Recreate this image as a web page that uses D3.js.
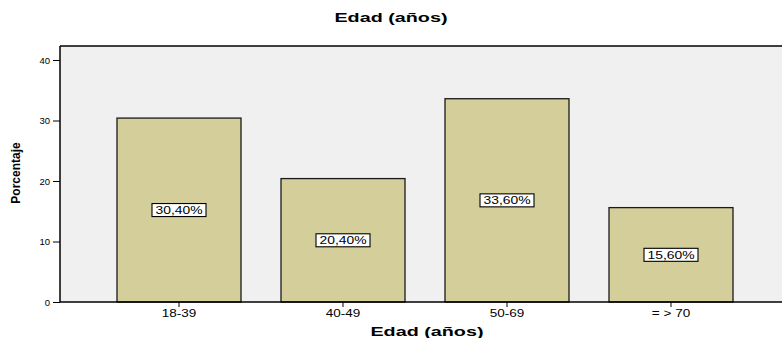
<!DOCTYPE html>
<html>
<head>
<meta charset="utf-8">
<script src="https://cdn.jsdelivr.net/npm/d3@7"></script>
<style>
  html, body { margin: 0; padding: 0; background: #fff; }
  svg { display: block; }
  text { font-family: "Liberation Sans", Arial, sans-serif; }
</style>
</head>
<body>
<svg id="chart" width="782" height="338"></svg>
<script>
// Age groups and their share of the sample (%)
const categories = ["18-39", "40-49", "50-69", "= > 70"];
const percentages = [30.4, 20.4, 33.6, 15.6];
const valueLabels = ["30,40%", "20,40%", "33,60%", "15,60%"];
const yTicks = [0, 10, 20, 30, 40];

const svg = d3.select("#chart");

const plot = { left: 60, top: 46, right: 782, bottom: 302 };

// Widen text glyphs horizontally by a factor, keeping the anchor point
function widen(sel, factor) {
  sel.each(function () {
    const len = this.getComputedTextLength();
    d3.select(this)
      .attr("textLength", len * factor)
      .attr("lengthAdjust", "spacingAndGlyphs");
  });
}

const y = d3.scaleLinear().domain([0, 40]).range([302, 60]);
const x = d3.scaleBand()
  .domain(categories)
  .range([97, 753])
  .paddingInner(40 / 164)
  .paddingOuter(20 / 164);

// Plot background
svg.append("rect")
  .attr("x", plot.left).attr("y", plot.top)
  .attr("width", plot.right - plot.left).attr("height", plot.bottom - plot.top)
  .attr("fill", "#f0f0f0");

// Bars
svg.append("g").selectAll("rect")
  .data(percentages)
  .join("rect")
  .attr("x", (d, i) => x(categories[i]))
  .attr("y", d => y(d))
  .attr("width", x.bandwidth())
  .attr("height", d => y(0) - y(d))
  .attr("fill", "#d3ce9a")
  .attr("stroke", "#1a1a1a")
  .attr("stroke-width", 1.3);

// Frame: top edge
svg.append("line")
  .attr("x1", plot.left).attr("x2", plot.right)
  .attr("y1", plot.top).attr("y2", plot.top)
  .attr("stroke", "#000").attr("stroke-width", 1.5);

// Y axis
const yAxis = svg.append("g")
  .attr("transform", `translate(${plot.left},0)`)
  .call(d3.axisLeft(y).tickValues(yTicks).tickSize(7).tickPadding(3));
yAxis.select(".domain").attr("d", `M0,${plot.top}V${plot.bottom}`).attr("stroke-width", 1.5);
yAxis.selectAll("text").attr("font-size", 9.5).attr("fill", "#000")
  .attr("font-family", "'Liberation Sans', Arial, sans-serif");

// X axis
const xAxis = svg.append("g")
  .attr("transform", `translate(0,${plot.bottom})`)
  .call(d3.axisBottom(x).tickSize(5).tickPadding(3));
xAxis.select(".domain").attr("d", `M${plot.left},0H${plot.right}`).attr("stroke-width", 1.5);
xAxis.selectAll("text").attr("font-size", 10).attr("fill", "#000")
  .attr("font-family", "'Liberation Sans', Arial, sans-serif")
  .call(widen, 1.35);

// Value labels in boxes at half bar height
const labels = svg.append("g").selectAll("g")
  .data(percentages)
  .join("g")
  .attr("transform", (d, i) => `translate(${x(categories[i]) + x.bandwidth() / 2},${y(d / 2)})`);
labels.append("rect")
  .attr("x", -27).attr("y", -6.5)
  .attr("width", 54).attr("height", 13)
  .attr("fill", "#fff").attr("stroke", "#000").attr("stroke-width", 1.1);
labels.append("text")
  .attr("text-anchor", "middle")
  .attr("dy", "0.36em")
  .attr("font-size", 10.5)
  .attr("fill", "#000")
  .text((d, i) => valueLabels[i])
  .call(widen, 1.32);

// Titles
svg.append("text")
  .attr("x", 391).attr("y", 22)
  .attr("text-anchor", "middle")
  .attr("font-size", 13).attr("font-weight", "bold")
  .text("Edad (años)")
  .call(widen, 1.52);

svg.append("text")
  .attr("x", 427).attr("y", 336)
  .attr("text-anchor", "middle")
  .attr("font-size", 13).attr("font-weight", "bold")
  .text("Edad (años)")
  .call(widen, 1.52);

svg.append("text")
  .attr("transform", "translate(20,173) rotate(-90)")
  .attr("text-anchor", "middle")
  .attr("font-size", 12).attr("font-weight", "bold")
  .text("Porcentaje");
</script>
</body>
</html>
